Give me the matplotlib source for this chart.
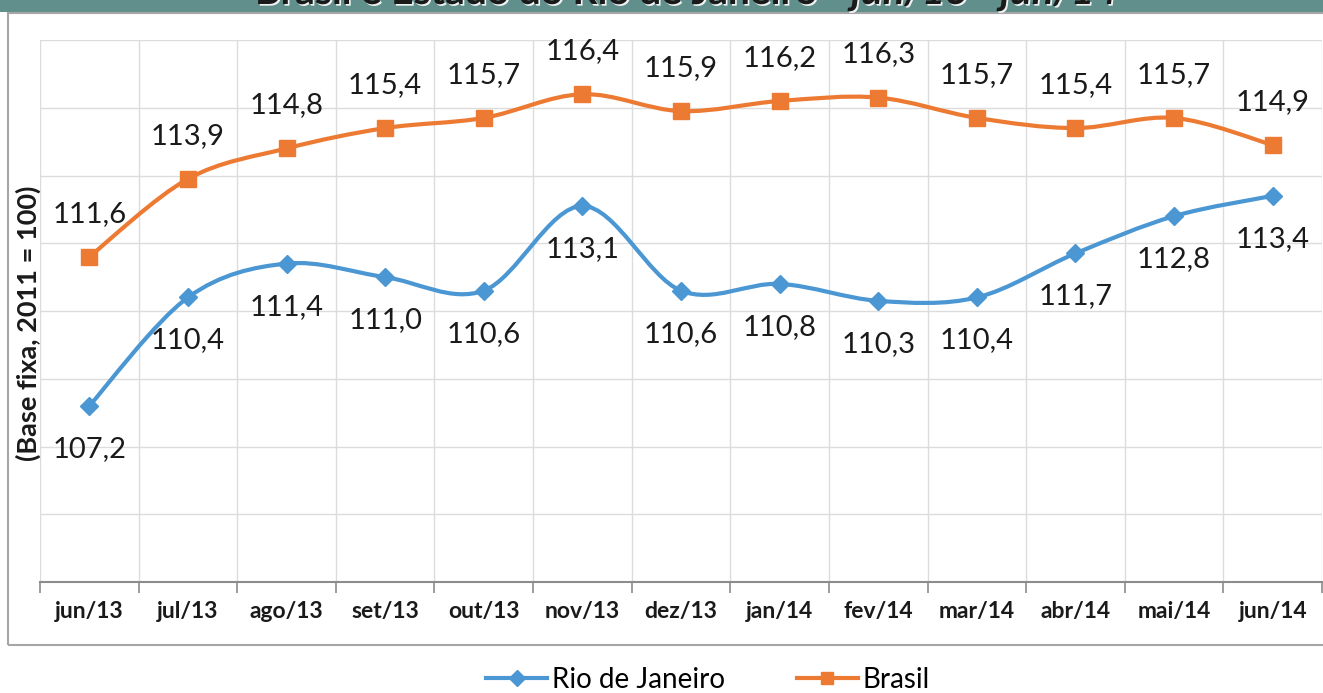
import numpy as np
import matplotlib
matplotlib.use("Agg")
import matplotlib.pyplot as plt
import matplotlib.patheffects as pe
from matplotlib.path import Path
from matplotlib.patches import PathPatch, Rectangle
from matplotlib.lines import Line2D

plt.rcParams['font.family'] = ['Lato', 'DejaVu Sans']

meses = ['jun/13', 'jul/13', 'ago/13', 'set/13', 'out/13', 'nov/13', 'dez/13',
         'jan/14', 'fev/14', 'mar/14', 'abr/14', 'mai/14', 'jun/14']
rio = [107.2, 110.4, 111.4, 111.0, 110.6, 113.1, 110.6, 110.8, 110.3, 110.4, 111.7, 112.8, 113.4]
brasil = [111.6, 113.9, 114.8, 115.4, 115.7, 116.4, 115.9, 116.2, 116.3, 115.7, 115.4, 115.7, 114.9]

AZUL = '#4a97d3'
LARANJA = '#ed7a32'
W, H = 1323, 693


def curva_suave(xs, ys):
    # bezier cubico passando pelos pontos (estilo "linha suavizada")
    pts = np.column_stack([xs, ys]).astype(float)
    n = len(pts)
    verts = [pts[0]]
    codes = [Path.MOVETO]
    for i in range(n - 1):
        p0 = pts[max(i - 1, 0)]
        p1 = pts[i]
        p2 = pts[i + 1]
        p3 = pts[min(i + 2, n - 1)]
        c1 = p1 + (p2 - p0) / 6.0
        c2 = p2 - (p3 - p1) / 6.0
        verts += [c1, c2, p2]
        codes += [Path.CURVE4] * 3
    return Path(verts, codes)


fig = plt.figure(figsize=(W / 100, H / 100), dpi=100)

# faixa do titulo (so a parte de baixo do texto aparece)
fig.patches.append(Rectangle((0, 1 - 12 / H), 1, 12 / H, transform=fig.transFigure,
                             facecolor='#618f8b', edgecolor='none', zorder=0))
sombra = [pe.withSimplePatchShadow(offset=(1.2, -1.2), shadow_rgbFace='white', alpha=0.9)]
base_titulo = 1 - 4 / H
t1 = fig.text(255 / W, base_titulo, 'Brasil e Estado do Rio de Janeiro - ', fontsize=28,
              fontweight='bold', color='#1a1a1a', va='baseline', ha='left',
              path_effects=sombra)
fig.canvas.draw()
x_fim = fig.transFigure.inverted().transform(
    (t1.get_window_extent().x1, 0))[0]
fig.text(x_fim, base_titulo, 'jun/13 - jun/14', fontsize=29, fontweight='bold',
         fontstyle='italic', color='#1a1a1a', va='baseline', ha='left',
         path_effects=sombra)

# moldura do grafico
fig.patches.append(Rectangle((8 / W, 1 - 645 / H), 1.2, (645 - 13) / H,
                             transform=fig.transFigure, facecolor='none',
                             edgecolor='#a6a6a6', linewidth=1.5, zorder=0))

ax = fig.add_axes([40 / W, 1 - 582 / H, 1282 / W, 542 / H])
x = np.arange(len(meses))
ax.set_xlim(-0.5, len(meses) - 0.5)
ax.set_ylim(102, 118)

ax.set_yticks(np.arange(102, 119, 2))
ax.set_yticklabels([])
ax.tick_params(axis='y', length=0)
ax.set_xticks(np.arange(-0.5, len(meses), 1), minor=False)
ax.set_xticklabels([])
ax.set_xticks(x, minor=True)
ax.set_xticklabels(meses, minor=True, fontsize=16.5, fontweight='bold', color='#1a1a1a')
ax.tick_params(axis='x', which='major', length=8, color='#8c8c8c', width=1.2)
ax.tick_params(axis='x', which='minor', length=0, pad=14)
ax.grid(True, which='major', color='#dcdcdc', linewidth=1)
ax.set_axisbelow(True)
for s in ['top', 'right', 'left']:
    ax.spines[s].set_visible(False)
ax.spines['bottom'].set_color('#8c8c8c')
ax.spines['bottom'].set_linewidth(1.5)

for serie, cor, mk, ms in [(rio, AZUL, 'D', 9), (brasil, LARANJA, 's', 11)]:
    ax.add_patch(PathPatch(curva_suave(x, serie), facecolor='none', edgecolor=cor,
                           linewidth=3, zorder=3, capstyle='round'))
    ax.plot(x, serie, linestyle='none', marker=mk, markersize=ms, color=cor, zorder=4)

for xi, v in zip(x, brasil):
    ax.annotate(f'{v:.1f}'.replace('.', ','), (xi, v), xytext=(0, 31),
                textcoords='offset points', ha='center', va='center',
                fontsize=21, color='#1a1a1a')
for xi, v in zip(x, rio):
    ax.annotate(f'{v:.1f}'.replace('.', ','), (xi, v), xytext=(0, -31),
                textcoords='offset points', ha='center', va='center',
                fontsize=21, color='#1a1a1a')

fig.text(28 / W, 1 - 323 / H, '(Base fixa, 2011 = 100)', rotation=90, fontsize=19.5,
         fontweight='bold', color='#1a1a1a', ha='center', va='center')

handles = [Line2D([], [], color=AZUL, linewidth=3, marker='D', markersize=8),
           Line2D([], [], color=LARANJA, linewidth=3, marker='s', markersize=9)]
fig.legend(handles, ['Rio de Janeiro', 'Brasil'], loc='center', ncol=2,
           bbox_to_anchor=(0.535, 1 - 680 / H), frameon=False, fontsize=20,
           handlelength=2.2, handletextpad=0.15, columnspacing=2.6)

fig.savefig('out.png', dpi=100)
